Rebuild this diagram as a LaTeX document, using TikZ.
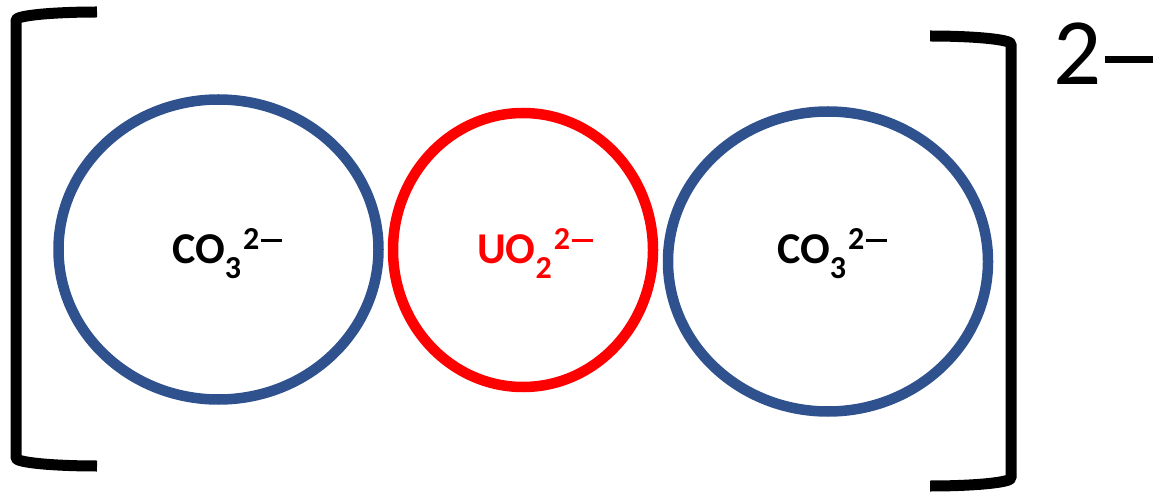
\documentclass[tikz,border=0pt]{standalone}
\usepackage{fontspec}
\setmainfont{Carlito}
\usetikzlibrary{shapes.geometric}
\definecolor{ionblue}{HTML}{2F528F}
\definecolor{ionred}{HTML}{FF0000}
\newcommand{\ionformula}[2]{#1\raisebox{-14pt}{\fontsize{32}{32}\selectfont #2}\hspace{2pt}\raisebox{14pt}{\fontsize{32}{32}\selectfont 2\hspace{1.5pt}\rule[8.5pt]{21pt}{3pt}}}

\begin{document}
\begin{tikzpicture}[
  x=1pt, y=1pt,
  ionring/.style={draw, ellipse, line width=10.5pt, inner sep=0pt, minimum width=320pt, minimum height=300pt},
  ionlabel/.style={anchor=base west, inner sep=0pt, font=\fontsize{44}{48}\selectfont\bfseries},
  bracket/.style={line width=11pt, line join=round}
]
\useasboundingbox (0,0) rectangle (1153,493);

\node[ionring, draw=ionblue] (ringL) at (218.5,243.5) {};
\node[ionring, draw=ionred, minimum width=260pt, minimum height=274pt] (ringM) at (523,243) {};
\node[ionring, draw=ionblue] (ringR) at (828,231.5) {};

\node[ionlabel] (txtL) at (172,229) {\ionformula{CO}{3}};
\node[ionlabel, text=ionred] (txtM) at (477,229) {\ionformula{UO}{2}};
\node[ionlabel] (txtR) at (777,229) {\ionformula{CO}{3}};

% brackets
\draw[bracket] (97,481) arc[start angle=90, end angle=180, x radius=81, y radius=8] -- (16,35) arc[start angle=180, end angle=270, x radius=81, y radius=8];
\draw[bracket] (930,457) arc[start angle=90, end angle=0, x radius=81, y radius=8] -- (1011,15) arc[start angle=0, end angle=-90, x radius=81, y radius=8];

\node[anchor=base west, inner sep=0pt, font=\fontsize{95}{100}\selectfont] (charge) at (1053,408) {2\hspace{4pt}\rule[21.5pt]{52pt}{7pt}};

\end{tikzpicture}
\end{document}
